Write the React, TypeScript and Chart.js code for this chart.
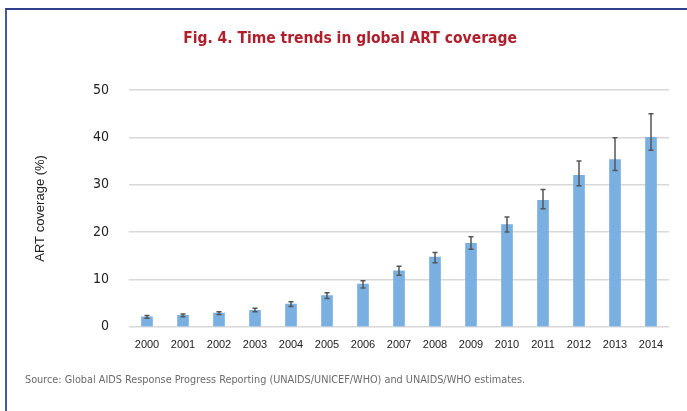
import React, { useEffect, useRef } from "react";
import { Chart, registerables } from "chart.js";

Chart.register(...registerables);

// ART coverage by year (%), with uncertainty bounds
const years = ["2000", "2001", "2002", "2003", "2004", "2005", "2006", "2007", "2008", "2009", "2010", "2011", "2012", "2013", "2014"];
const coverage = [2.1, 2.4, 2.9, 3.5, 4.8, 6.6, 9.0, 11.8, 14.7, 17.6, 21.6, 26.7, 32.0, 35.3, 40.0];
const coverageLow = [1.8, 2.1, 2.6, 3.2, 4.3, 6.0, 8.2, 10.9, 13.5, 16.4, 20.0, 24.9, 29.8, 33.0, 37.3];
const coverageHigh = [2.4, 2.7, 3.2, 3.9, 5.3, 7.2, 9.7, 12.8, 15.7, 19.0, 23.2, 29.0, 35.0, 39.9, 45.0];
const yTicks = [0, 10, 20, 30, 40, 50];

const titleText = "Fig. 4. Time trends in global ART coverage";
const sourceText = "Source: Global AIDS Response Progress Reporting (UNAIDS/UNICEF/WHO) and UNAIDS/WHO estimates.";
const yTitle = "ART coverage (%)";

const condensed = "'DejaVu Sans Condensed', 'Liberation Sans', sans-serif";
const plain = "'Liberation Sans', Arial, sans-serif";

// Draws vertical whiskers with caps from the low/high arrays
const errorBars = {
  id: "errorBars",
  afterDatasetsDraw(chart: any) {
    const { ctx, scales } = chart;
    const meta = chart.getDatasetMeta(0);
    ctx.save();
    ctx.strokeStyle = "#555555";
    ctx.lineWidth = 1.5;
    meta.data.forEach((bar: any, i: number) => {
      const x = bar.x;
      const yLo = scales.y.getPixelForValue(coverageLow[i]);
      const yHi = scales.y.getPixelForValue(coverageHigh[i]);
      const cap = 2.5;
      ctx.beginPath();
      ctx.moveTo(x, yLo);
      ctx.lineTo(x, yHi);
      ctx.moveTo(x - cap, yLo);
      ctx.lineTo(x + cap, yLo);
      ctx.moveTo(x - cap, yHi);
      ctx.lineTo(x + cap, yHi);
      ctx.stroke();
    });
    ctx.restore();
  },
};

function CoverageChart() {
  const ref = useRef<HTMLCanvasElement | null>(null);

  useEffect(() => {
    if (!ref.current) return;
    const chart = new Chart(ref.current, {
      type: "bar",
      data: {
        labels: years,
        datasets: [
          {
            data: coverage,
            backgroundColor: "#7aafe2",
            borderWidth: 0,
            barThickness: 11,
          },
        ],
      },
      options: {
        animation: false,
        responsive: false,
        devicePixelRatio: 1,
        layout: { padding: { left: 20, right: 18, top: 90, bottom: 47 } },
        plugins: {
          legend: { display: false },
          tooltip: { enabled: false },
        },
        scales: {
          x: {
            grid: { display: false, drawTicks: false },
            border: { display: false },
            ticks: {
              color: "#222222",
              font: { family: plain, size: 11 },
              padding: 12,
              maxRotation: 0,
              autoSkip: false,
            },
          },
          y: {
            min: 0,
            max: 50,
            afterFit(scale: any) {
              scale.width = 109;
            },
            afterBuildTicks(scale: any) {
              scale.ticks = yTicks.map((v) => ({ value: v }));
            },
            grid: { color: "#d8d8d8", lineWidth: 1.5, drawTicks: false },
            border: { display: false },
            ticks: {
              color: "#222222",
              font: { family: condensed, size: 14 },
              padding: 20,
            },
            title: {
              display: true,
              text: yTitle,
              color: "#222222",
              font: { family: plain, size: 13 },
              padding: { top: 13, bottom: 0 },
            },
          },
        },
      },
      plugins: [errorBars],
    });
    return () => chart.destroy();
  }, []);

  return <canvas ref={ref} width={687} height={411} style={{ position: "absolute", left: 0, top: 0 }} />;
}

export default function App() {
  return (
    <div
      style={{
        position: "fixed",
        left: 0,
        top: 0,
        width: 687,
        height: 411,
        background: "#ffffff",
        overflow: "hidden",
      }}
    >
      <div
        style={{
          position: "absolute",
          left: 5,
          top: 8,
          right: 0,
          bottom: 0,
          borderTop: "2px solid #2f3f8c",
          borderLeft: "2px solid #4758a8",
        }}
      />
      <CoverageChart />
      <div
        style={{
          position: "absolute",
          left: 0,
          width: 700,
          top: 28,
          lineHeight: "20px",
          textAlign: "center",
          whiteSpace: "nowrap",
          fontFamily: condensed,
          fontWeight: "bold",
          fontSize: 15.5,
          color: "#b0202c",
        }}
      >
        {titleText}
      </div>
      <div
        style={{
          position: "absolute",
          left: 25,
          top: 373,
          lineHeight: "14px",
          whiteSpace: "nowrap",
          fontFamily: condensed,
          fontSize: 10.8,
          color: "#6a6a6a",
        }}
      >
        {sourceText}
      </div>
    </div>
  );
}
